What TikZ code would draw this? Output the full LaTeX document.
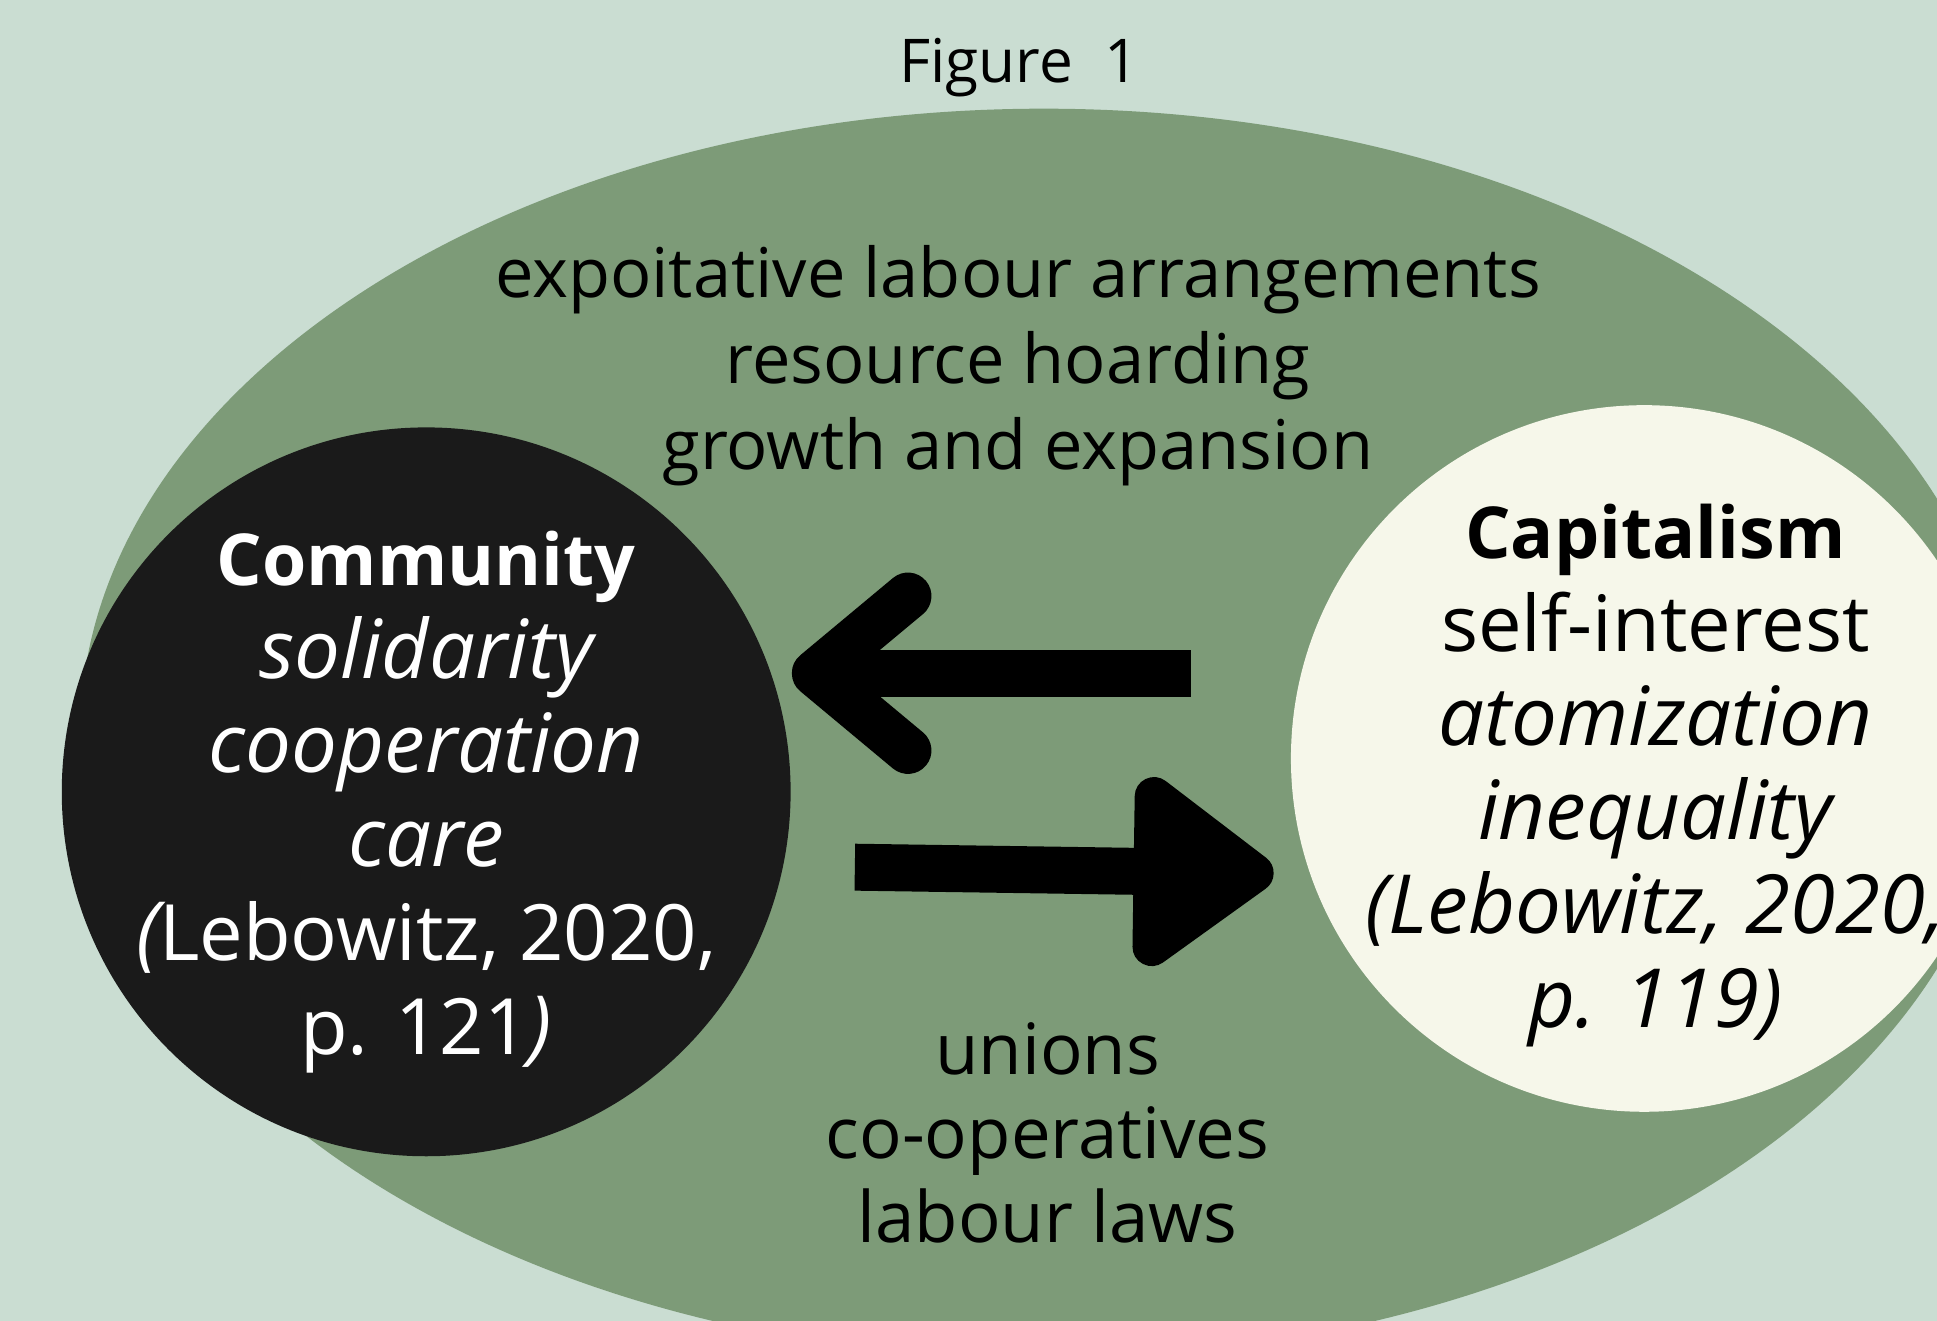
\documentclass[tikz,border=0pt]{standalone}
\usepackage{fontspec}
\setmainfont{Open Sans}
\usetikzlibrary{arrows.meta,positioning}

\definecolor{bgsage}{HTML}{CADDD2}
\definecolor{sage}{HTML}{7D9B78}
\definecolor{ink}{HTML}{1A1A1A}
\definecolor{cream}{HTML}{F6F7EA}

% line styles inside the circles
\newcommand{\bfline}[1]{{\fontsize{16.5}{21.6}\selectfont\bfseries #1}}
\newcommand{\itline}[1]{{\fontsize{18.8}{21.6}\selectfont\itshape #1}}

\tikzset{
	bigcircle/.style={circle, inner sep=0pt},
	circletext/.style={align=center, font=\fontsize{17.9}{21.6}\selectfont},
	listtext/.style={align=center, text=black, font=\fontsize{15.8}{19.9}\selectfont},
	fatline/.style={line width=0.38cm, color=black}
}

\begin{document}
\begin{tikzpicture}
	% Canvas
	\useasboundingbox (0,0) rectangle (15.68,10.69);
	\fill[bgsage] (0,0) rectangle (15.68,10.69);
	\fill[sage] (8.45,4.75) ellipse [x radius=7.8, y radius=5.06];

	\node (fig) at (8.25,10.14) [font=\fontsize{13.9}{16}\selectfont] {{Figure~~1}};

	% The two circles
	\node (community) at (3.45,4.28) [bigcircle, fill=ink, minimum size=5.9cm] {};
	\node (communitytext) at (3.45,4.20) [circletext, text=white]
		{\bfline{Community}\\\itline{solidarity}\\\itline{cooperation}\\\itline{care}\\\itline{(}Lebowitz, 2020,\\p. 121\itline{)}};
	\node (capitalism) at (13.31,4.55) [bigcircle, fill=cream, minimum size=5.72cm] {};
	\node (capitalismtext) at (13.40,4.415) [circletext, text=black]
		{\bfline{Capitalism}\\self-interest\\\itline{atomization}\\\itline{inequality}\\\itline{(Lebowitz, 2020,}\\\itline{p. 119)}};

	% Text above and below the arrows
	\node (exploit) at (8.24,7.73) [listtext] {expoitative labour arrangements\\resource hoarding\\growth and expansion};
	\node (remedies) at (8.48,1.52) [listtext, font=\fontsize{16.3}{19.3}\selectfont] {unions\\co-operatives\\labour laws};

	% Arrows
	\coordinate (leftstart) at (9.64,5.24);
	\coordinate (lefttip) at (6.41,5.24);
	\coordinate (rightstart) at (6.92,3.67);
	\coordinate (righttip) at (10.31,3.62);
	\draw[fatline, -{Straight Barb[length=0.75cm, width=1.25cm, round]}] (leftstart) -- (lefttip);
	\draw[fatline, -{Triangle[length=1.25cm, width=1.75cm, round]}] (rightstart) -- (righttip);

\end{tikzpicture}
\end{document}
